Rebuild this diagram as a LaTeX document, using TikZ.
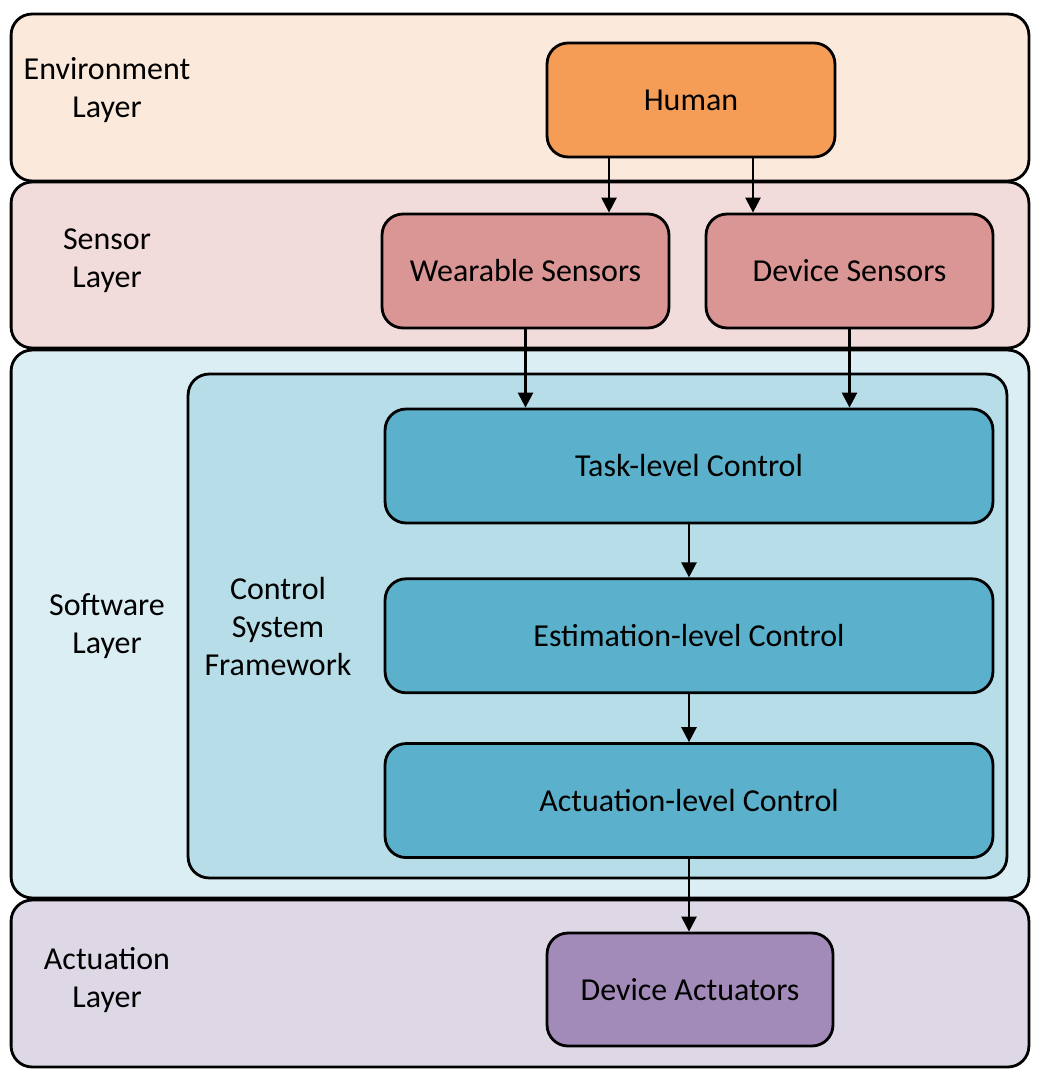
\documentclass[tikz,border=0pt]{standalone}
\usepackage{fontspec}
\setmainfont{Carlito}
\usepackage{xcolor}
\definecolor{cEnv}{HTML}{FBE9DC}
\definecolor{cHuman}{HTML}{F59D56}
\definecolor{cSens}{HTML}{F2DCDB}
\definecolor{cSensBox}{HTML}{D99694}
\definecolor{cSoft}{HTML}{DBEEF4}
\definecolor{cFrame}{HTML}{B7DDE8}
\definecolor{cCtrl}{HTML}{5BB1CB}
\definecolor{cAct}{HTML}{DED7E6}
\definecolor{cActBox}{HTML}{A28BB8}
\usepackage{tikz}
\usetikzlibrary{positioning,arrows.meta,calc}
\tikzset{
  layer-box/.style={draw=black,line width=1.6pt,rounded corners=0.42cm,
    minimum width=20.36cm},
  node-box/.style={draw=black,line width=1.6pt,rounded corners=0.42cm,
    minimum height=2.28cm,align=center},
  layer-label/.style={align=center},
  arrow/.style={-{Triangle[length=3mm,width=3mm]},line width=1.4pt,draw=black},
}

\begin{document}
\begin{tikzpicture}[x=0.02cm,y=-0.02cm,
    font=\fontsize{18.2}{21.6}\selectfont]
  \useasboundingbox (0,0) rectangle (1040,1084);
  % layers
  \node[layer-box,fill=cEnv,minimum height=3.34cm]   (envlayer)  at (520,97.5) {};
  \node[layer-box,fill=cSens,minimum height=3.32cm]  (senslayer) at (520,265) {};
  \node[layer-box,fill=cSoft,minimum height=10.96cm] (softlayer) at (520,624) {};
  \node[layer-box,fill=cAct,minimum height=3.34cm]   (actlayer)  at (520,983.5) {};
  \node[layer-label] (envlabel)  at (107,90)  {Environment\\Layer};
  \node[layer-label] (senslabel) at (107,261) {Sensor\\Layer};
  \node[layer-label] (softlabel) at (107,626) {Software\\Layer};
  \node[layer-label] (actlabel)  at (107,980) {Actuation\\Layer};
  % control system framework
  \node[node-box,fill=cFrame,minimum width=16.38cm,minimum height=10.08cm]
    (frame) at (597.5,626) {};
  \node[layer-label] (framelabel) at (278,626.5) {Control\\System\\Framework};
  % blocks
  \node[node-box,fill=cHuman,minimum width=5.76cm] (human) at (691,100) {Human};
  \node[node-box,fill=cSensBox,minimum width=5.74cm] (wear) at (525.5,271) {Wearable Sensors};
  \node[node-box,fill=cSensBox,minimum width=5.74cm] (dev)  at (849.5,271) {Device Sensors};
  \node[node-box,fill=cCtrl,minimum width=12.16cm] (task) at (689,466) {Task-level Control};
  \node[node-box,fill=cCtrl,minimum width=12.16cm,below=1.06cm of task] (estim)
    {Estimation-level Control};
  \node[node-box,fill=cCtrl,minimum width=12.16cm,below=0.96cm of estim] (actctrl)
    {Actuation-level Control};
  \node[node-box,fill=cActBox,minimum width=5.72cm,minimum height=2.26cm] (devact)
    at (690,989.5) {Device Actuators};
  % arrows
  \draw[arrow] ([xshift=-1.64cm]human.south) -- ([xshift=-1.64cm]human.south |- wear.north);
  \draw[arrow] ([xshift=1.24cm]human.south) -- ([xshift=1.24cm]human.south |- dev.north);
  \draw[arrow] (wear.south) -- (wear.south |- task.north);
  \draw[arrow] (dev.south) -- (dev.south |- task.north);
  \draw[arrow] (task) -- (estim);
  \draw[arrow] (estim) -- (actctrl);
  \draw[arrow] (actctrl.south) -- (actctrl.south |- devact.north);
\end{tikzpicture}
\end{document}
